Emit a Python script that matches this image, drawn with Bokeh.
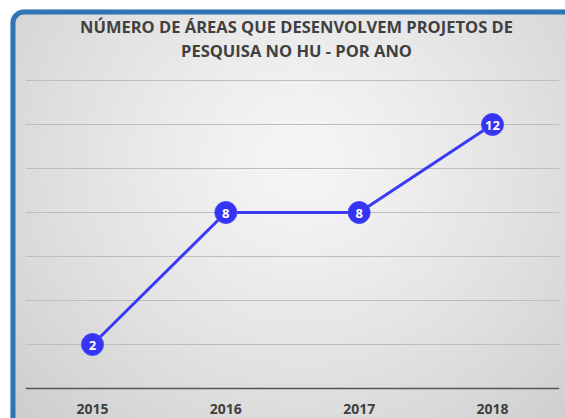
import numpy as np
from bokeh.plotting import figure
from bokeh.models import Range1d, BoxAnnotation, ColumnDataSource
from bokeh.core.properties import value
from bokeh.embed import file_html
from bokeh.resources import INLINE

# ---- data ----
years = ["2015", "2016", "2017", "2018"]
counts = [2, 8, 8, 12]
y_ticks = [0, 2, 4, 6, 8, 10, 12, 14]
title_lines = ["NÚMERO DE ÁREAS QUE DESENVOLVEM PROJETOS DE",
               "PESQUISA NO HU - POR ANO"]

# ---- layout constants (pixels inside the figure) ----
W, H = 565, 418
X0PX, SX = 92.0, 133.33     # pixel of first category, px per category
Y0PX, SY = 388.0, 22.0      # pixel of value 0, px per unit


def dx(px):
    return (px - X0PX) / SX


def dy(py):
    return (Y0PX - py) / SY


p = figure(width=W, height=H, output_backend="svg", toolbar_location=None,
           x_range=Range1d(dx(0), dx(W)), y_range=Range1d(dy(H), dy(0)),
           min_border=0)
p.axis.visible = False
p.grid.visible = False
p.outline_line_color = None
p.background_fill_color = "white"
p.border_fill_color = "white"

# ---- card background: radial gradient image ----
cl, ct = 10, 9
w, h = W - cl, H - ct
jj, ii = np.meshgrid(np.arange(w) + 0.5 + cl, np.arange(h) + 0.5 + ct)
d = np.sqrt(((jj - 300) / 1.0) ** 2 + ((ii - 160) / 0.95) ** 2) / 390.0
c = np.clip(246 - 40 * d ** 1.25, 195, 250).astype(np.uint8)
rgba = np.zeros((h, w, 4), dtype=np.uint8)
rgba[..., 0] = c
rgba[..., 1] = c
rgba[..., 2] = c
rgba[..., 3] = 255
r = 12
cx, cy = cl + r, ct + r
mask = (jj < cx) & (ii < cy) & (np.hypot(jj - cx, ii - cy) > r)
rgba[mask, 3] = 0
img = np.flipud(rgba).copy().view(dtype=np.uint32).reshape((h, w))
p.image_rgba(image=[img], x=dx(cl), y=dy(H), dw=w / SX, dh=h / SY, level="image")

# ---- card border ----
p.add_layout(BoxAnnotation(left=dx(12.5), right=dx(W + 30), top=dy(11.5), bottom=dy(H + 30),
                           fill_alpha=0, line_color="#2e75b6", line_alpha=1.0, line_width=5,
                           border_radius=11, level="overlay"))

# ---- grid lines and axis line ----
xs = list(range(len(years)))
gl = [t for t in y_ticks if t != 0]
p.segment(x0=[xs[0] - 0.5] * len(gl), x1=[xs[-1] + 0.5] * len(gl), y0=gl, y1=gl,
          line_color="#bdbdbd", line_width=1)
p.segment(x0=[xs[0] - 0.5], x1=[xs[-1] + 0.5], y0=[y_ticks[0]], y1=[y_ticks[0]],
          line_color="#555555", line_width=1.6)

# ---- category labels ----
p.text(x=xs, y=[y_ticks[0]] * len(xs), text=years, y_offset=20,
       text_align="center", text_baseline="middle",
       text_font=value("Open Sans"), text_font_style="bold",
       text_font_size="14px", text_color="#404040")

# ---- title ----
p.text(x=[dx(296)] * 2, y=[dy(26), dy(49.5)], text=title_lines,
       text_align="center", text_baseline="middle",
       text_font=value("Open Sans"), text_font_style="bold",
       text_font_size="16.5px", text_color="#404040")

# ---- series ----
src = ColumnDataSource(dict(x=xs, y=counts, lbl=[str(v) for v in counts]))
p.line("x", "y", source=src, line_color="#3a3af5", line_width=3)
p.scatter("x", "y", source=src, size=22, fill_color="#3434f2",
          line_color="#4a4aff", line_width=1)
p.text("x", "y", text="lbl", source=src, text_align="center", text_baseline="middle",
       text_font=value("Open Sans"), text_font_style="bold",
       text_font_size="13px", text_color="white", y_offset=1)

open("out.html", "w").write(file_html(p, INLINE))
